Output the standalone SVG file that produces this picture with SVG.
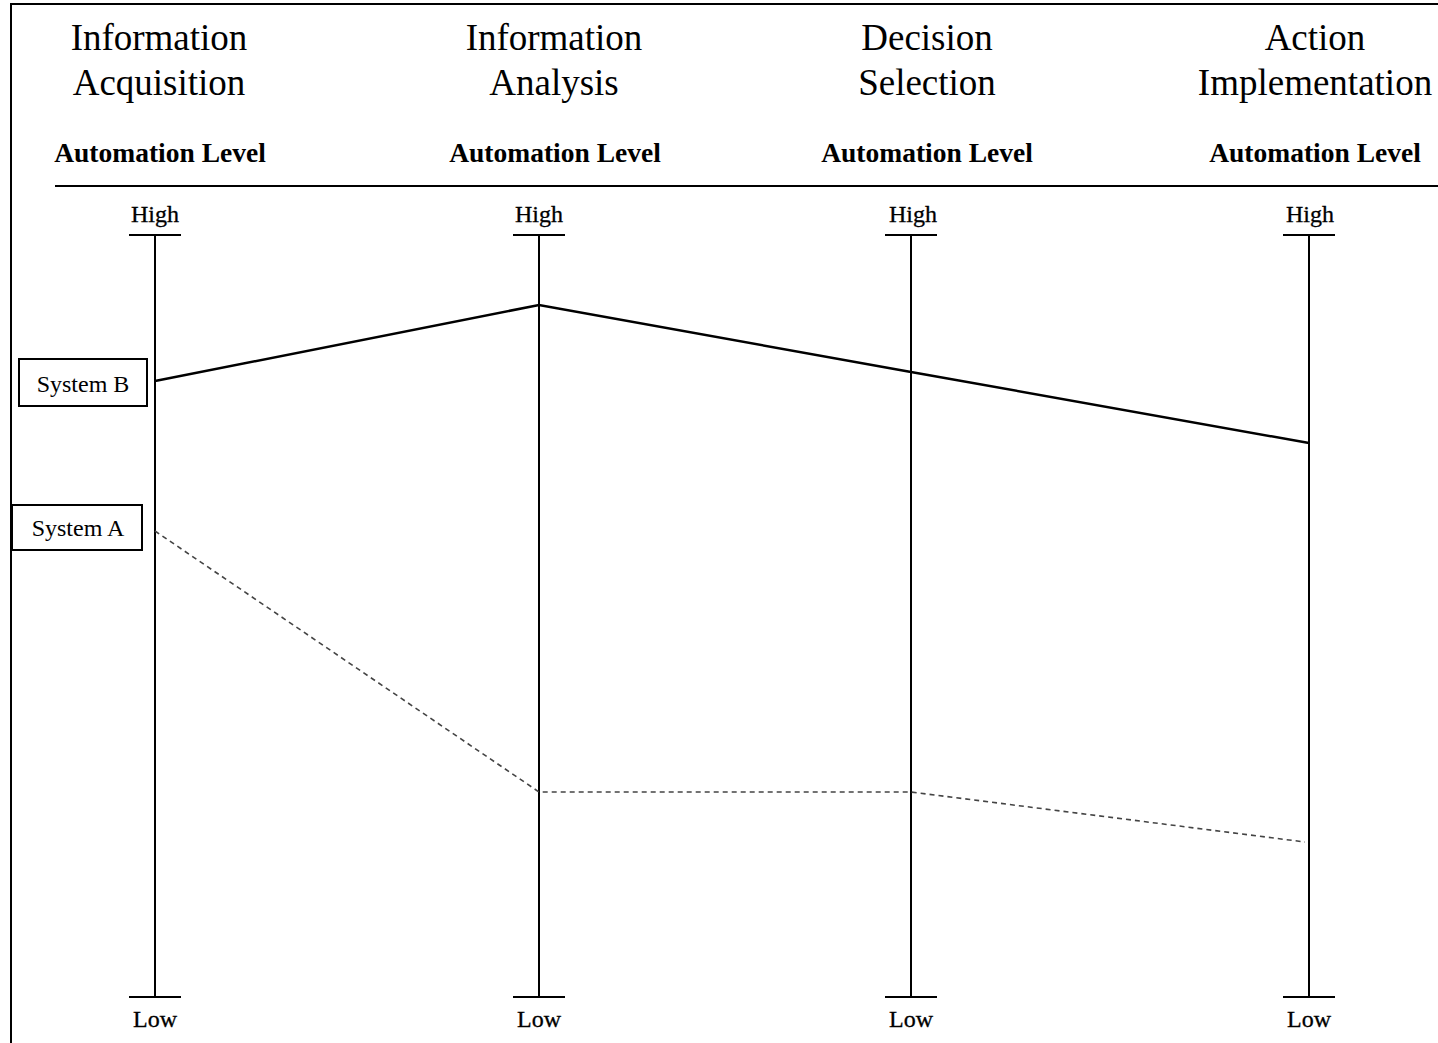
<svg xmlns="http://www.w3.org/2000/svg" width="1438" height="1043" viewBox="0 0 1438 1043">
<style>
.hdr{font-family:"Liberation Serif","Times New Roman",serif;font-size:37px;text-anchor:middle;fill:#000}
.lvl{font-family:"Liberation Serif","Times New Roman",serif;font-size:27.5px;font-weight:bold;text-anchor:middle;fill:#000}
.hl{font-family:"Liberation Serif","Times New Roman",serif;font-size:24px;text-anchor:middle;fill:#000;stroke:#000;stroke-width:0.3}
.lbl{font-family:"Liberation Serif","Times New Roman",serif;font-size:24px;text-anchor:middle;fill:#000}
.axis{stroke:#000;stroke-width:2;fill:none}
.box{fill:#fff;stroke:#000;stroke-width:2}
</style>
<rect width="1438" height="1043" fill="#fff"/>
<g id="frame">
<path d="M11,1043 V4 H1438" class="axis"/>
<line x1="55" y1="186" x2="1438" y2="186" class="axis"/>
</g>
<g id="headers">
<text class="hdr" x="159" y="50">Information</text>
<text class="hdr" x="159" y="95">Acquisition</text>
<text class="hdr" x="554" y="50">Information</text>
<text class="hdr" x="554" y="95">Analysis</text>
<text class="hdr" x="927" y="50">Decision</text>
<text class="hdr" x="927" y="95">Selection</text>
<text class="hdr" x="1315" y="50">Action</text>
<text class="hdr" x="1315" y="95">Implementation</text>
<text class="lvl" x="160" y="162">Automation Level</text>
<text class="lvl" x="555" y="162">Automation Level</text>
<text class="lvl" x="927" y="162">Automation Level</text>
<text class="lvl" x="1315" y="162">Automation Level</text>
</g>
<g id="axis-acquisition">
<line x1="155" y1="235" x2="155" y2="997" class="axis"/>
<line x1="129" y1="235" x2="181" y2="235" class="axis"/>
<line x1="129" y1="997" x2="181" y2="997" class="axis"/>
<text class="hl" x="155" y="222">High</text>
<text class="hl" x="155" y="1027">Low</text>
</g>
<g id="axis-analysis">
<line x1="539" y1="235" x2="539" y2="997" class="axis"/>
<line x1="513" y1="235" x2="565" y2="235" class="axis"/>
<line x1="513" y1="997" x2="565" y2="997" class="axis"/>
<text class="hl" x="539" y="222">High</text>
<text class="hl" x="539" y="1027">Low</text>
</g>
<g id="axis-decision">
<line x1="911" y1="235" x2="911" y2="997" class="axis"/>
<line x1="885" y1="235" x2="937" y2="235" class="axis"/>
<line x1="885" y1="997" x2="937" y2="997" class="axis"/>
<text class="hl" x="913" y="222">High</text>
<text class="hl" x="911" y="1027">Low</text>
</g>
<g id="axis-action">
<line x1="1309" y1="235" x2="1309" y2="997" class="axis"/>
<line x1="1283" y1="235" x2="1335" y2="235" class="axis"/>
<line x1="1283" y1="997" x2="1335" y2="997" class="axis"/>
<text class="hl" x="1310" y="222">High</text>
<text class="hl" x="1309" y="1027">Low</text>
</g>
<g id="connectors">
<polyline points="155,381 539,305 911,372 1309,443" fill="none" stroke="#000" stroke-width="2.5"/>
<polyline points="155,531 539,792 911,792 1305,842" fill="none" stroke="#444" stroke-width="1.6" stroke-dasharray="5,4"/>
</g>
<g id="system-b">
<rect x="19" y="359" width="128" height="47" class="box"/>
<text class="lbl" x="83" y="392">System B</text>
</g>
<g id="system-a">
<rect x="12" y="505" width="130" height="45" class="box"/>
<text class="lbl" x="78" y="536">System A</text>
</g>
</svg>
